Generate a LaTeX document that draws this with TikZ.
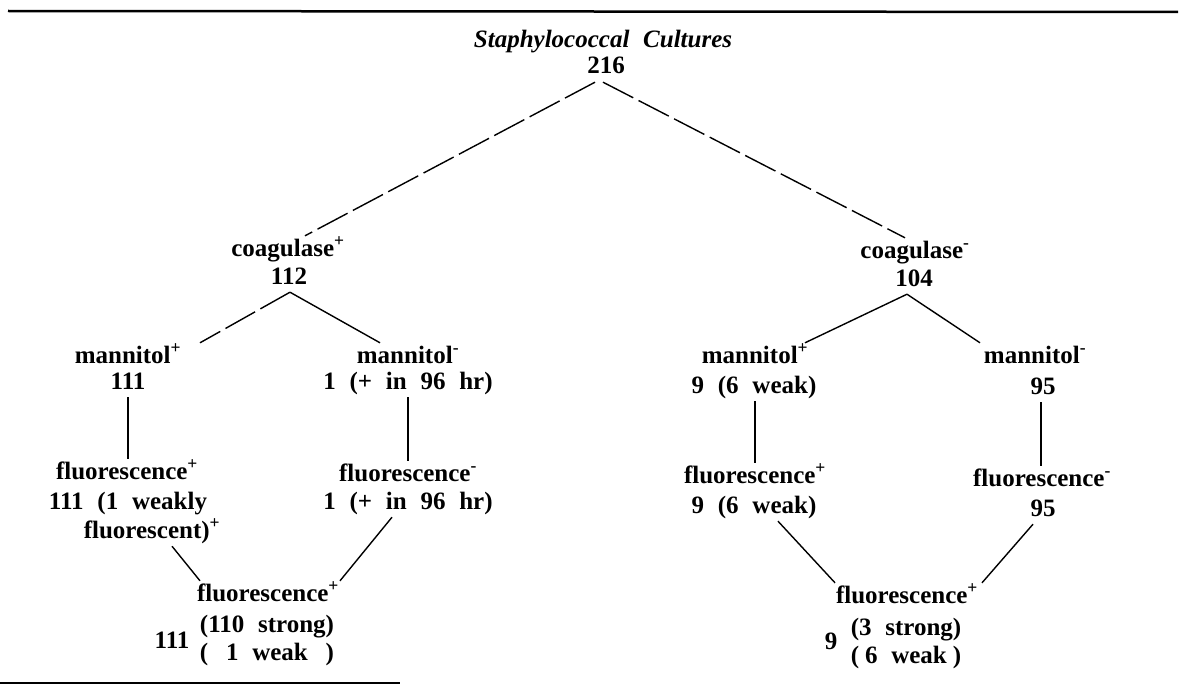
\documentclass[tikz,border=0pt]{standalone}
\usepackage{fontspec}
\setmainfont{Liberation Serif}[WordSpace=2.2]

\newcommand{\sgnp}{\textsuperscript{+}}
\newcommand{\sgnm}{\textsuperscript{-}}

\tikzset{
  lbl/.style={font=\fontsize{25}{29}\selectfont\bfseries, inner sep=3pt, text height=17pt, text depth=5pt},
  cnt/.style={font=\fontsize{25}{28}\selectfont\bfseries, inner sep=0pt},
  brk/.style={line width=1.4pt, dash pattern=on 34pt off 6pt},
  lnk/.style={line width=1.4pt}
}

\begin{document}
\begin{tikzpicture}[x=1pt,y=-1pt]
\useasboundingbox (0,0) rectangle (1190,685);

%\draw[step=50,color=gray!30] (0,0) grid (1190,685);

% rules
\draw[line width=2.5pt] (8,11)--(1178,12);
\draw[line width=1.5pt] (0,683)--(400,683);

% top
\node[lbl] (title) at (603,42) {\textit{Staphylococcal Cultures}};
\node[lbl] (n216) at (606,68) {216};

\node[lbl] (cpos) at (288,250) {coagulase\sgnp};
\node[lbl] (cposn) at (289,278) {112};
\node[lbl] (cneg) at (915,252) {coagulase\sgnm};
\node[lbl] (cnegn) at (914,280) {104};

\draw[brk] ([xshift=-11pt]n216.south)--([xshift=17pt]cpos.north);
\draw[brk] ([xshift=-3pt]n216.south)--([xshift=-10pt]cneg.north);

% coagulase+ side
\node[lbl] (mpos) at (128,357) {mannitol\sgnp};
\node[lbl] (mposn) at (128,383) {111};
\node[lbl] (mneg) at (408,357) {mannitol\sgnm};
\node[lbl] (mnegn) at (408,383) {1 (+ in 96 hr)};

\draw[brk] ([xshift=1pt]cposn.south)--([xshift=72pt]mpos.north);
\draw[lnk] ([xshift=1pt]cposn.south)--([xshift=-28pt]mneg.north);

\node[lbl] (fpos) at (127,473) {fluorescence\sgnp};
\node[lbl] (fposn) at (128,503) {111 (1 weakly};
\node[lbl] (fposm) at (152,532) {fluorescent)\sgnp};
\node[lbl] (fneg) at (408,475) {fluorescence\sgnm};
\node[lbl] (fnegn) at (408,503) {1 (+ in 96 hr)};

\draw[lnk] (mposn.south)--(mposn.south |- fpos.north);
\draw[lnk] (mnegn.south)--(mnegn.south |- fneg.north);

\node[lbl] (fbot) at (268,595) {fluorescence\sgnp};
\node[cnt] (fbotn) at (267,641) {\begin{tabular}{@{}c@{}c@{}c@{}}(&110 strong&)\\(&1 weak&)\end{tabular}};
\node[lbl] (fbotc) at (172,642) {111};

\draw[lnk] ([xshift=20pt]fposm.south)--([xshift=-68pt]fbot.north);
\draw[lnk] ([xshift=-16pt]fnegn.south)--([xshift=72pt]fbot.north);

% coagulase- side
\node[lbl] (rmpos) at (755,357) {mannitol\sgnp};
\node[lbl] (rmposn) at (754,387) {9 (6 weak)};
\node[lbl] (rmneg) at (1035,357) {mannitol\sgnm};
\node[lbl] (rmnegn) at (1043,388) {95};

\draw[lnk] ([xshift=-7pt]cnegn.south)--([xshift=50pt]rmpos.north);
\draw[lnk] ([xshift=-7pt]cnegn.south)--([xshift=-55pt]rmneg.north);

\node[lbl] (rfpos) at (755,477) {fluorescence\sgnp};
\node[lbl] (rfposn) at (754,507) {9 (6 weak)};
\node[lbl] (rfneg) at (1042,480) {fluorescence\sgnm};
\node[lbl] (rfnegn) at (1043,510) {95};

\draw[lnk] ([xshift=1pt]rmposn.south)--([xshift=1pt]rmposn.south |- rfpos.north);
\draw[lnk] ([xshift=-2pt]rmnegn.south)--([xshift=-2pt]rmnegn.south |- rfneg.north);

\node[lbl] (rfbot) at (907,597) {fluorescence\sgnp};
\node[cnt] (rfbotn) at (906,644) {\begin{tabular}{@{}c@{}c@{}c@{}}(&3 strong&)\\(&6 weak&)\end{tabular}};
\node[lbl] (rfbotc) at (831,643) {9};

\draw[lnk] ([xshift=24pt]rfposn.south)--([xshift=-72pt]rfbot.north);
\draw[lnk] ([xshift=-10pt]rfnegn.south)--([xshift=75pt]rfbot.north);

\end{tikzpicture}
\end{document}
